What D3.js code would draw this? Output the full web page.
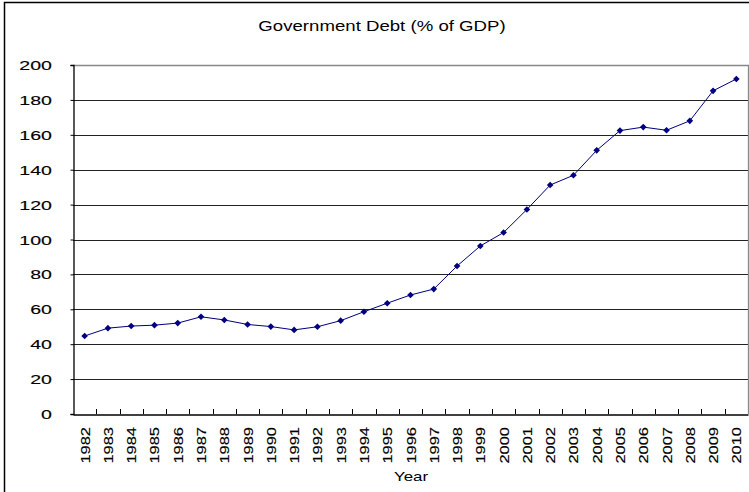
<!DOCTYPE html>
<html>
<head>
<meta charset="utf-8">
<script src="https://cdn.jsdelivr.net/npm/d3@7"></script>
<style>
  html, body { margin: 0; padding: 0; background: #fff; }
  svg { display: block; }
  text { font-family: "Liberation Sans", Arial, sans-serif; fill: #000; stroke: #000; stroke-width: 0.15px; }
  text.plain { stroke: none; }
</style>
</head>
<body>
<svg id="chart" width="749" height="492"></svg>
<script>
const years = [1982,1983,1984,1985,1986,1987,1988,1989,1990,1991,1992,1993,1994,1995,1996,1997,1998,1999,2000,2001,2002,2003,2004,2005,2006,2007,2008,2009,2010];
const debt = [44.7,49.2,50.4,50.9,52.1,55.7,53.9,51.3,50.1,48.2,50.0,53.5,58.6,63.5,68.2,71.6,84.8,96.3,104.0,117.2,131.2,136.8,151.1,162.4,164.4,162.6,168.0,185.2,192.0];
const yTicks = [0,20,40,60,80,100,120,140,160,180,200];
const title = "Government Debt (% of GDP)";
const xTitle = "Year";

(function () {
const svg = d3.select("#chart");
const pLeft = 73, pRight = 748, pTop = 65, pBottom = 414;

const x = d3.scaleBand().domain(years.map(String)).range([pLeft, pRight]).padding(0);
const y = d3.scaleLinear().domain([0, 200]).range([pBottom, pTop]);

// outer chart border
svg.append("rect").attr("x", 4.5).attr("y", 2.5).attr("width", 800).attr("height", 600)
  .attr("fill", "none").attr("stroke", "#000").attr("stroke-width", 1.5);

// gridlines
svg.append("g").selectAll("line").data(yTicks.filter(t => t > 0 && t < 200)).join("line")
  .attr("x1", pLeft).attr("x2", pRight)
  .attr("y1", d => Math.round(y(d)) + 0.5).attr("y2", d => Math.round(y(d)) + 0.5)
  .attr("stroke", "#222").attr("stroke-width", 1);

// plot border top/right (gray)
svg.append("path")
  .attr("d", `M${pLeft},${Math.round(y(200)) + 0.5}H${pRight + 0.5}V${pBottom}`)
  .attr("fill", "none").attr("stroke", "#888").attr("stroke-width", 1.3);

// y axis
const yAxis = d3.axisLeft(y).tickValues(yTicks).tickSize(3).tickFormat("");
const gy = svg.append("g").attr("transform", `translate(${pLeft + 0.5},0)`).call(yAxis);
gy.select(".domain").attr("stroke", "#000").attr("stroke-width", 1.3);
gy.selectAll(".tick line").attr("stroke", "#000");

// y tick labels (horizontally stretched to match reference)
svg.append("g").selectAll("g").data(yTicks).join("g")
  .attr("transform", d => `translate(52,${y(d) + 5}) scale(1.45,1)`)
  .append("text").attr("text-anchor", "end").attr("font-size", 13.5).text(d => d);

// x axis
const xAxis = d3.axisBottom(x).tickSize(0).tickFormat("");
const gx = svg.append("g").attr("transform", `translate(0,${pBottom + 0.5})`).call(xAxis);
gx.select(".domain").attr("stroke", "#000").attr("stroke-width", 1.3);
// inner ticks at category boundaries
svg.append("g").selectAll("line").data(years.slice(1).map(String)).join("line")
  .attr("x1", d => Math.round(x(d)) + 0.5).attr("x2", d => Math.round(x(d)) + 0.5)
  .attr("y1", pBottom - 5).attr("y2", pBottom)
  .attr("stroke", "#000").attr("stroke-width", 1);

// x tick labels rotated
svg.append("g").selectAll("g").data(years.map(String)).join("g")
  .attr("transform", d => `translate(${x(d) + x.bandwidth() / 2 + 5},427) rotate(-90) scale(1.22,1)`)
  .append("text").attr("text-anchor", "end").attr("font-size", 13.5).text(d => d);

// line + markers
const pts = years.map((yr, i) => ({ yr: String(yr), v: debt[i] }));
const line = d3.line().x(d => x(d.yr) + x.bandwidth() / 2).y(d => y(d.v));
svg.append("path").datum(pts).attr("d", line)
  .attr("fill", "none").attr("stroke", "#000080").attr("stroke-width", 1);
const squareDiamond = {
  draw(ctx, size) {
    const r = Math.sqrt(size / 2);
    ctx.moveTo(0, -r); ctx.lineTo(r, 0); ctx.lineTo(0, r); ctx.lineTo(-r, 0); ctx.closePath();
  }
};
svg.append("g").selectAll("path").data(pts).join("path")
  .attr("transform", d => `translate(${x(d.yr) + x.bandwidth() / 2},${y(d.v)})`)
  .attr("d", d3.symbol().type(squareDiamond).size(22))
  .attr("fill", "#000080");

// title
svg.append("g").attr("transform", "translate(382,31) scale(1.33,1)")
  .append("text").attr("class", "plain").attr("text-anchor", "middle").attr("font-size", 14).text(title);

// x axis title
svg.append("g").attr("transform", "translate(411,481) scale(1.25,1)")
  .append("text").attr("class", "plain").attr("text-anchor", "middle").attr("font-size", 13.5).text(xTitle);
})();
</script>
</body>
</html>
